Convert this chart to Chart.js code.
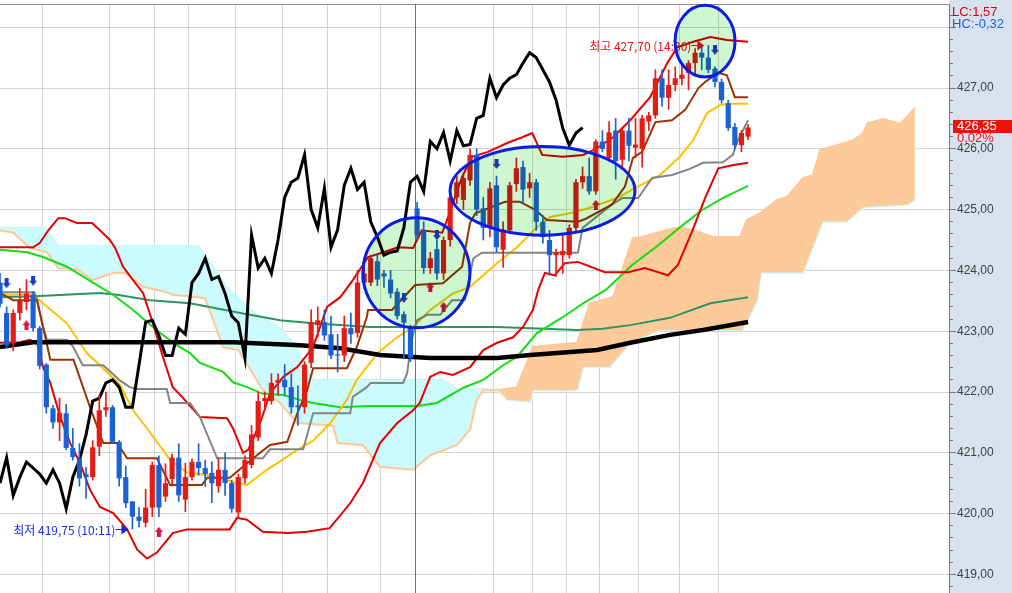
<!DOCTYPE html>
<html lang="ko">
<head>
<meta charset="utf-8">
<title>chart</title>
<script src="https://cdn.jsdelivr.net/npm/chart.js@4.4.1/dist/chart.umd.min.js"></script>
<style>
  html, body { margin: 0; padding: 0; background: #fff; }
  #box { width: 1012px; height: 593px; }
</style>
</head>
<body>
<div id="box"><canvas id="chart"></canvas></div>
<script>
// one bar per slot, index 0 = leftmost (half cut) bar
const opens = [423.80, 423.30, 422.80, 423.30, 423.48, 423.60, 423.05, 422.45, 421.73, 421.50,
  421.65, 421.08, 420.90, 420.65, 420.60, 421.10, 421.70, 421.75, 421.18, 420.60,
  420.20, 419.95, 419.85, 420.10, 420.80, 420.28, 420.57, 420.92, 420.23, 420.60,
  420.85, 420.75, 420.67, 420.45, 420.72, 420.50, 420.02, 420.58, 420.80, 421.25,
  421.85, 421.85, 422.15, 422.20, 422.08, 421.78, 421.75, 422.48, 423.10, 423.15,
  422.95, 422.62, 422.60, 423.05, 422.97, 423.80, 423.80, 424.15, 423.95, 423.85,
  423.65, 423.28, 423.06, 425.02, 424.66, 424.04, 424.35, 423.95, 424.50, 425.20,
  425.16, 425.48, 425.90, 425.02, 424.72, 425.40, 424.34, 424.66, 425.42, 425.70,
  425.35, 425.45, 424.80, 424.50, 424.25, 424.25, 424.25, 424.70, 425.45, 425.55,
  425.30, 426.12, 425.85, 426.30, 425.82, 426.30, 426.02, 426.00, 426.45, 426.55,
  427.16, 426.84, 427.05, 427.15, 427.25, 427.41, 427.58, 427.50, 427.32, 427.10,
  426.75, 426.36, 426.06, 426.20];
const highs = [423.95, 423.40, 423.35, 423.70, 423.85, 423.65, 423.08, 422.47, 421.78, 421.90,
  421.80, 421.40, 421.15, 420.76, 421.20, 421.95, 422.00, 421.78, 421.20, 420.78,
  420.20, 420.10, 420.40, 420.85, 420.95, 420.82, 420.98, 421.15, 420.83, 420.90,
  421.15, 420.88, 420.85, 420.92, 421.00, 420.55, 420.65, 420.95, 421.45, 422.00,
  422.00, 422.30, 422.30, 422.45, 422.30, 422.10, 422.50, 423.35, 423.40, 423.35,
  423.25, 422.95, 423.25, 423.30, 424.00, 424.05, 424.25, 424.28, 424.00, 424.00,
  423.70, 423.32, 423.10, 425.12, 424.80, 424.30, 424.50, 424.55, 425.30, 425.55,
  425.60, 426.00, 426.00, 425.20, 425.45, 425.55, 424.80, 425.45, 425.85, 425.80,
  425.60, 425.50, 424.90, 424.66, 424.35, 424.60, 424.75, 425.50, 425.70, 425.85,
  426.15, 426.30, 426.45, 426.50, 426.35, 426.50, 426.50, 426.55, 426.60, 427.30,
  427.30, 427.30, 427.35, 427.40, 427.45, 427.65, 427.68, 427.70, 427.35, 427.15,
  426.80, 426.42, 426.30, 426.40];
const lows = [423.40, 422.72, 422.68, 423.18, 423.35, 423.00, 422.38, 421.65, 421.40, 421.20,
  421.05, 420.88, 420.45, 420.25, 420.55, 420.95, 421.60, 421.15, 420.45, 420.10,
  419.75, 419.78, 419.78, 419.95, 419.95, 420.20, 420.45, 420.20, 420.03, 420.55,
  420.63, 420.45, 420.18, 420.35, 420.30, 420.02, 419.92, 420.50, 420.75, 421.20,
  421.70, 421.80, 421.95, 421.95, 421.65, 421.45, 421.65, 422.40, 422.90, 422.85,
  422.55, 422.33, 422.50, 422.80, 422.90, 423.70, 423.75, 423.75, 423.72, 423.55,
  423.20, 422.55, 422.50, 424.50, 423.95, 423.95, 423.85, 423.85, 424.40, 425.10,
  425.00, 425.40, 424.90, 424.50, 424.55, 424.30, 424.05, 424.60, 425.30, 425.10,
  425.20, 424.66, 424.45, 423.92, 423.90, 423.95, 424.20, 424.65, 425.35, 425.25,
  425.25, 425.95, 425.80, 425.50, 425.70, 425.80, 425.85, 425.70, 426.30, 426.50,
  426.70, 426.65, 426.95, 427.05, 426.97, 427.20, 427.30, 427.25, 427.02, 426.75,
  426.30, 426.00, 425.95, 426.15];
const closes = [423.45, 422.77, 423.30, 423.50, 423.62, 423.05, 422.43, 421.75, 421.50, 421.66,
  421.08, 420.93, 420.58, 420.60, 421.09, 421.70, 421.75, 421.18, 420.58, 420.17,
  419.95, 419.88, 420.10, 420.80, 420.10, 420.50, 420.92, 420.30, 420.60, 420.85,
  420.75, 420.65, 420.50, 420.72, 420.50, 420.08, 420.60, 420.88, 421.30, 421.85,
  421.90, 422.15, 422.20, 422.08, 421.75, 421.75, 422.45, 423.15, 423.18, 422.93,
  422.60, 422.60, 423.05, 422.95, 423.80, 423.95, 424.20, 423.85, 423.90, 423.62,
  423.25, 423.14, 422.56, 424.58, 424.04, 424.20, 423.95, 424.50, 425.20, 425.45,
  425.52, 425.90, 425.00, 424.70, 425.35, 424.38, 424.67, 425.40, 425.68, 425.33,
  425.45, 424.80, 424.55, 424.25, 424.30, 424.32, 424.70, 425.45, 425.55, 425.30,
  426.12, 426.00, 426.27, 425.80, 426.30, 426.05, 426.07, 426.50, 426.55, 427.16,
  426.84, 427.05, 427.16, 427.22, 427.41, 427.58, 427.50, 427.30, 427.10, 426.80,
  426.34, 426.06, 426.26, 426.35];

// indicator lines, [bar index, price]
const bbUpper = [[0,424.38],[5,424.38],[6,424.45],[7.3,424.66],[8.8,424.86],[9.8,424.86],[11.6,424.78],[13.9,424.78],
  [15.1,424.66],[16.6,424.50],[17.4,424.37],[18.6,424.06],[20.1,423.84],[21.6,423.63],[23.1,423.13],[24.6,422.58],
  [26.1,422.08],[27.5,421.92],[30.2,421.59],[34.3,421.57],[35.2,421.40],[36.7,421.0],[37.5,421.05],[39.3,421.49],
  [40.8,421.98],[42.8,422.25],[44.9,422.41],[47.3,422.74],[49.4,423.40],[51.4,423.56],[53.3,423.84],[55.6,424.22],
  [57.7,424.29],[60.1,424.38],[62.4,424.37],[63.7,424.66],[66.8,424.62],[67.7,424.88],[69.8,425.54],[71.3,425.87],
  [73.7,425.95],[76.7,426.10],[78.9,426.19],[80.4,426.26],[81.9,425.90],[85,425.87],[88.1,425.90],[90.2,426.01],
  [92.6,426.19],[95.2,426.47],[98.2,426.85],[100.8,427.41],[102.3,427.67],[104.7,427.76],[107.3,427.84],[109.8,427.79],[113,427.76]];
const bbLower = [[0,422.81],[3,422.82],[4.5,422.86],[5.6,422.81],[6.5,422.41],[7.6,422.15],[9.1,421.59],[10.6,421.16],
  [12.1,420.83],[13.6,420.39],[15.1,420.11],[17.1,420.01],[19.2,419.74],[20.7,419.41],[22.2,419.26],[23.7,419.36],
  [26.1,419.68],[28.2,419.74],[34.7,419.74],[35.8,419.93],[37.3,419.90],[39.7,419.70],[43.4,419.68],[46.4,419.70],
  [49.8,419.76],[52.9,420.17],[54.8,420.50],[57.4,421.16],[60,421.49],[62.4,421.70],[63.4,421.82],[65,422.25],
  [66.5,422.33],[68.4,422.28],[71,422.41],[73,422.69],[75.1,422.81],[77.5,422.90],[79,423.07],[80.5,423.35],
  [81.3,423.68],[82.3,423.96],[83.8,423.92],[85.3,424.12],[87.3,424.14],[91.4,423.97],[94.9,423.97],[97.4,424.04],
  [100.9,423.92],[102.4,424.09],[104.5,424.63],[106.5,425.19],[108.5,425.68],[110.6,425.73],[113,425.77]];
const baseLine = [[0,423.63],[2,423.51],[5.6,423.51],[6.5,423.07],[7.6,422.53],[11.1,422.53],[13.6,421.75],[15.6,421.16],
  [17.7,421.16],[19.2,420.91],[23.7,420.91],[25.7,420.47],[30.5,420.47],[31.3,420.59],[34.7,420.59],[36.7,420.77],
  [38.8,420.96],[40.8,421.13],[43.4,421.18],[44.9,421.65],[46.4,422.03],[47.3,422.39],[52.4,422.39],[53.9,422.74],
  [55.4,423.23],[55.6,423.35],[59.2,423.35],[62.7,423.76],[66.9,423.79],[69.8,424.06],[71,424.78],[71.8,424.94],
  [76.3,425.13],[78.5,425.13],[80.8,425.0],[82.6,424.83],[87.3,424.80],[88.5,424.85],[92.4,425.08],[94.4,425.38],
  [95.6,425.85],[97,425.95],[99,426.44],[101.5,426.47],[103.5,426.64],[105.5,427.0],[106.5,427.10],[108.5,427.25],
  [109.8,427.21],[111,426.85],[113,426.85]];
const convLine = [[0,423.64],[5.2,423.64],[5.6,423.51],[6.5,423.07],[7.1,422.86],[10.1,422.86],[11,422.75],[12.5,422.44],
  [15.6,422.44],[18,422.2],[19.6,422.08],[20.7,422.05],[25.2,422.05],[25.7,421.82],[28.7,421.82],[30.2,421.59],
  [32.8,420.91],[39.7,420.91],[40.8,421.06],[45.8,421.06],[47.3,421.65],[52.9,421.65],[53.3,421.92],[55.4,422.08],
  [56,422.15],[60.9,422.15],[61.5,422.31],[62.2,422.86],[63,423.18],[64.5,423.27],[66.5,423.27],[68.3,423.51],
  [70.2,423.51],[71.5,424.20],[72.8,424.29],[87.3,424.29],[88,424.70],[92.4,425.08],[94,425.19],[96.4,425.19],
  [98.5,425.52],[101.5,425.57],[104.2,425.67],[106.2,425.77],[109.2,425.78],[110.7,425.90],[111.3,426.10],[113,426.47]];
const ma20 = [[0,423.60],[5,423.60],[6.5,423.46],[10.1,423.13],[13.1,422.64],[15.1,422.44],[18.1,422.12],[20.1,421.70],
  [22.7,421.33],[25.7,420.88],[28.2,420.68],[31.3,420.63],[35.2,420.52],[37.3,420.47],[40.3,420.72],[42.3,420.86],
  [44.9,421.05],[47.3,421.20],[49.9,421.49],[52.4,421.87],[53.9,422.20],[55.9,422.48],[57,422.64],[60,422.90],
  [62.4,423.07],[65,423.35],[68.4,423.62],[71,423.73],[75.1,424.12],[78.1,424.38],[81.1,424.71],[83.1,424.88],
  [86.1,424.94],[89.1,425.03],[93.2,425.19],[96.2,425.37],[99.7,425.57],[102.7,425.87],[104.7,426.14],[106.8,426.59],
  [108.8,426.72],[110,426.74],[113,426.74]];
const ma60 = [[0,424.34],[4.1,424.30],[6.5,424.22],[10.1,424.06],[15.1,423.73],[17.1,423.60],[20.1,423.35],[22.2,423.15],
  [24.2,422.97],[26.7,422.77],[28.7,422.64],[30.2,422.48],[33.7,422.33],[35.2,422.16],[37.3,422.08],[39.7,421.97],
  [42.8,421.95],[45.3,421.87],[47.3,421.82],[51.4,421.75],[55.9,421.77],[63,421.77],[66,421.82],[70,422.07],
  [73,422.20],[76,422.44],[78.1,422.58],[81.1,422.97],[85,423.23],[88.1,423.46],[91.5,423.68],[95.5,424.09],
  [99.5,424.42],[103.2,424.75],[106,424.99],[109.5,425.21],[113,425.39]];
const ma120 = [[0,423.56],[6,423.58],[15.1,423.63],[17.7,423.60],[22.7,423.51],[28.7,423.46],[36.3,423.30],[42.3,423.18],
  [47.3,423.13],[55.9,423.07],[75.1,423.07],[87.2,423.02],[91,423.04],[95.2,423.10],[101.2,423.22],[107.3,423.46],[113,423.56]];
const ma240 = [[0,422.74],[5,422.82],[35.2,422.82],[45.3,422.77],[51.4,422.72],[57.4,422.61],[65,422.56],[75.1,422.56],
  [80.1,422.61],[90.2,422.69],[95.2,422.81],[101.2,422.94],[106.2,423.02],[113,423.15]];
const leadA = [[0,424.66],[2,424.62],[4.5,424.37],[7.1,424.30],[8.8,424.04],[11.6,424.02],[14,423.84],[17.1,423.96],
  [18.9,423.96],[20.7,423.81],[21.6,423.73],[25.2,423.64],[26.1,423.60],[29.9,423.56],[31,423.54],[33.7,422.74],
  [36,422.69],[39.7,422.03],[42.3,421.82],[44.9,421.49],[50.3,421.45],[51,421.16],[54.8,421.13],[57.4,420.77],
  [62.4,420.72],[65,420.96],[69,421.13],[71,421.38],[72,421.87],[73,422.03],[75.1,422.03],[78.1,422.08],
  [80.5,422.74],[87.2,422.81],[89.1,423.46],[92.6,423.56],[95.6,424.53],[97,424.55],[100.5,424.66],[102.7,424.71],
  [104.7,424.66],[107.7,424.55],[111.8,424.55],[112.8,424.83],[114.8,424.94],[117.4,425.16],[118.9,425.21],[121.3,425.52],
  [122.8,425.57],[123.9,425.98],[126.4,426.06],[128.9,426.14],[130.4,426.26],[131,426.42],[133.4,426.49],[136,426.41],[138.2,426.67]];
const leadB = [[0,424.70],[6.8,424.70],[8.8,424.40],[29.9,424.40],[31.7,424.14],[34,423.76],[36.3,423.51],[38.5,423.30],
  [42.3,423.05],[44.6,422.77],[47.3,422.20],[66.9,422.20],[69,422.05],[75.1,422.05],[76.6,421.87],[80.1,421.84],
  [80.5,422.03],[87.2,422.03],[88.1,422.41],[92.1,422.41],[95.2,422.81],[99.7,423.02],[112.1,423.02],[112.8,423.15],
  [114.4,423.51],[115,423.96],[121.3,423.96],[124.3,424.80],[127.9,424.80],[130.4,425.04],[137,425.08],[138.2,425.16]];
const laggingShift = 25;

// signal arrows, [bar index, price]
const upSignals = [[4,423.10],[24,419.70],[65,423.72],[67,423.40],[90,425.08]];
const downSignals = [[1,423.79],[5,423.83],[61,423.55],[66,424.58],[75,425.75],[108,427.63]];

// marked zones: centre bar/price and half sizes
const zones = [
  {i: 62.9, p: 423.96, di: 8.08, dp: 0.905},
  {i: 81.95, p: 425.31, di: 13.97, dp: 0.73},
  {i: 106.5, p: 427.77, di: 4.53, dp: 0.59}
];
const extremes = [
  {label: '최고', idx: 107, price: 427.70, time: '14:30', color: '#e81414'},
  {label: '최저', idx: 20, price: 419.75, time: '10:11', color: '#1a2ad8'}
];
const timeMarks = [6.4, 16.5, 23.4, 28.5, 35.5, 42.6, 49.5, 57.5, 74.5, 80.5, 85.6, 90.5, 96.5, 102.6, 108.6];
const daySplit = 62.7;
const gridPrices = [419, 420, 421, 422, 423, 424, 425, 426, 427, 428];
const priceLabels = [419, 420, 421, 422, 423, 424, 425, 426, 427];
const lcValue = 1.57, hcValue = -0.32, changePct = 0.02;

const UP = '#e41c14', DOWN = '#1a62d4';
const isStep = (v, s) => Math.abs(v / s - Math.round(v / s)) < 1e-6;
const isMajor = c => !c.tick || isStep(c.tick.value, 1);
const fmt = v => v.toFixed(2).replace('.', ',');
const toXY = pts => pts.map(([x, y]) => ({x, y}));
const candleColors = opens.map((o, i) => closes[i] >= o ? UP : DOWN);
const tickFamily = "'Liberation Sans', Arial, sans-serif";

const minorTicks = [];
for (let k = gridPrices[0] * 5 - 1; k <= gridPrices[gridPrices.length - 1] * 5 + 1; k++) minorTicks.push(k / 5);

function arrowIcon(color, up) {
  const c = document.createElement('canvas');
  c.width = 8; c.height = 10;
  const g = c.getContext('2d');
  g.fillStyle = color;
  g.beginPath();
  if (up) {
    g.moveTo(4, 0); g.lineTo(8, 5); g.lineTo(6, 5); g.lineTo(6, 10); g.lineTo(2, 10); g.lineTo(2, 5); g.lineTo(0, 5);
  } else {
    g.moveTo(4, 10); g.lineTo(8, 5); g.lineTo(6, 5); g.lineTo(6, 0); g.lineTo(2, 0); g.lineTo(2, 5); g.lineTo(0, 5);
  }
  g.closePath();
  g.fill();
  return c;
}

function line(data, color, width, order) {
  return {type: 'line', data: toXY(data), borderColor: color, borderWidth: width, pointRadius: 0,
    tension: 0, fill: false, order: order};
}

const datasets = [
  {data: opens.map((o, i) => ({x: i, y: [o, closes[i]]})), backgroundColor: candleColors,
    grouped: false, categoryPercentage: 1, barPercentage: 0.78, minBarLength: 1, borderWidth: 0, order: 0},
  {data: opens.map((o, i) => ({x: i, y: [lows[i], highs[i]]})), backgroundColor: candleColors,
    grouped: false, barThickness: 1, borderWidth: 0, order: 1},
  {type: 'line', data: toXY(upSignals), showLine: false, pointStyle: arrowIcon('#dc1636', true), pointRadius: 5, order: -1},
  {type: 'line', data: toXY(downSignals), showLine: false, pointStyle: arrowIcon('#1c3ac6', false), pointRadius: 5, order: -1},
  line(bbUpper, '#e60000', 2, 5),
  line(bbLower, '#e60000', 2, 5),
  line(baseLine, '#993300', 2, 4),
  line(convLine, '#848484', 2, 4),
  line(ma20, '#ffc000', 2, 4),
  line(ma60, '#14dd14', 2, 5),
  line(ma120, '#2e9462', 2, 5),
  line(ma240, '#000000', 4.5, 3),
  {type: 'line', data: closes.slice(laggingShift).map((c, i) => ({x: i, y: c})), borderColor: '#000',
    borderWidth: 3, pointRadius: 0, tension: 0, fill: false, order: 2},
  Object.assign(line(leadA, '#ffc698', 2, 10), {fill: {target: 14, above: '#fdcb99', below: '#ccfbfd'}}),
  line(leadB, '#c6fbfd', 2, 10)
];

const overlay = {
  id: 'overlay',
  beforeDraw(chart) {
    const {ctx, chartArea: a, width, height} = chart;
    ctx.save();
    ctx.fillStyle = '#d8e2ef';
    ctx.fillRect(a.right, 0, width - a.right, height);
    ctx.restore();
  },
  afterDatasetDraw(chart, args) {
    if (args.index !== 13) return;
    const {ctx, chartArea: a, scales: {x}} = chart;
    const px = Math.round(x.getPixelForValue(daySplit));
    ctx.save();
    ctx.fillStyle = '#ec3c3c';
    ctx.fillRect(px, a.top, 1, a.bottom - a.top);
    ctx.restore();
  },
  afterDatasetsDraw(chart) {
    const {ctx, scales: {x, y}} = chart;
    ctx.save();
    ctx.font = "12px 'Noto Sans CJK KR', sans-serif";
    ctx.textAlign = 'right';
    ctx.textBaseline = 'middle';
    extremes.forEach(e => {
      const tx = x.getPixelForValue(e.idx) - 4, ty = Math.round(y.getPixelForValue(e.price));
      ctx.fillStyle = e.color; ctx.strokeStyle = e.color; ctx.lineWidth = 1;
      ctx.fillText(`${e.label} ${fmt(e.price)} (${e.time})`, tx - 13, ty + 1);
      ctx.beginPath(); ctx.moveTo(tx - 13, ty + 0.5); ctx.lineTo(tx - 5, ty + 0.5); ctx.stroke();
      ctx.beginPath(); ctx.moveTo(tx, ty + 0.5); ctx.lineTo(tx - 7, ty - 4.5); ctx.lineTo(tx - 7, ty + 5.5); ctx.closePath(); ctx.fill();
    });
    const shapes = zones.map(z => {
      const cx = x.getPixelForValue(z.i), cy = y.getPixelForValue(z.p);
      return [cx, cy, x.getPixelForValue(z.i + z.di) - cx, cy - y.getPixelForValue(z.p + z.dp)];
    });
    ctx.globalCompositeOperation = 'multiply';
    ctx.fillStyle = '#cff7cf';
    shapes.forEach(s => { ctx.beginPath(); ctx.ellipse(s[0], s[1], s[2], s[3], 0, 0, Math.PI * 2); ctx.fill(); });
    ctx.globalCompositeOperation = 'source-over';
    ctx.strokeStyle = '#0c1ce6';
    ctx.lineWidth = 3;
    shapes.forEach(s => { ctx.beginPath(); ctx.ellipse(s[0], s[1], s[2], s[3], 0, 0, Math.PI * 2); ctx.stroke(); });
    ctx.restore();
  },
  afterDraw(chart) {
    const {ctx, chartArea: a, width, scales: {y}} = chart;
    ctx.save();
    ctx.textAlign = 'left';
    ctx.textBaseline = 'middle';
    ctx.font = "13px " + tickFamily;
    ctx.fillStyle = '#e00000';
    ctx.fillText('LC:' + fmt(lcValue), a.right + 3, 12);
    ctx.fillStyle = '#1e5fe0';
    ctx.fillText('HC:' + fmt(hcValue), a.right + 3, 24);
    const last = closes[closes.length - 1];
    const py = y.getPixelForValue(last);
    ctx.fillStyle = '#e6160c';
    ctx.fillRect(a.right + 4, Math.round(py - 7.5), width - a.right - 4, 13);
    ctx.fillStyle = '#ffffff';
    ctx.fillText(fmt(last), a.right + 8, py - 1);
    ctx.fillStyle = '#e6160c';
    ctx.fillText(fmt(changePct) + '%', a.right + 8, py + 11);
    ctx.restore();
  }
};

new Chart(document.getElementById('chart'), {
  type: 'bar',
  data: {datasets},
  options: {
    responsive: true,
    maintainAspectRatio: false,
    animation: false,
    events: [],
    layout: {padding: 0, autoPadding: false},
    plugins: {legend: {display: false}, tooltip: {enabled: false}},
    scales: {
      x: {
        type: 'linear', position: 'top', min: 0, max: 143.35, offset: false,
        afterFit: s => { s.height = 4; },
        afterBuildTicks: s => { s.ticks = timeMarks.map(v => ({value: v})); },
        ticks: {display: false},
        grid: {color: '#d4d4d4', drawTicks: false, offset: false},
        border: {color: '#8f8f8f'}
      },
      y: {
        type: 'linear', position: 'right', min: 418.694, max: 428.382,
        afterFit: s => { s.width = 63; s.paddingTop = 0; s.paddingBottom = 0; },
        afterBuildTicks: s => { s.ticks = minorTicks.map(v => ({value: v})); },
        ticks: {
          autoSkip: false, padding: 0, color: '#404040',
          font: {family: tickFamily, size: 12},
          callback: v => priceLabels.some(p => Math.abs(v - p) < 1e-6) ? fmt(v) : ''
        },
        grid: {
          color: c => isMajor(c) ? '#d4d4d4' : 'rgba(0,0,0,0)',
          tickColor: '#777777', tickLength: 8,
          tickBorderDash: c => isMajor(c) ? [6, 10] : [3, 10]
        },
        border: {color: '#7c7c7c'}
      }
    }
  },
  plugins: [overlay]
});
</script>
</body>
</html>
